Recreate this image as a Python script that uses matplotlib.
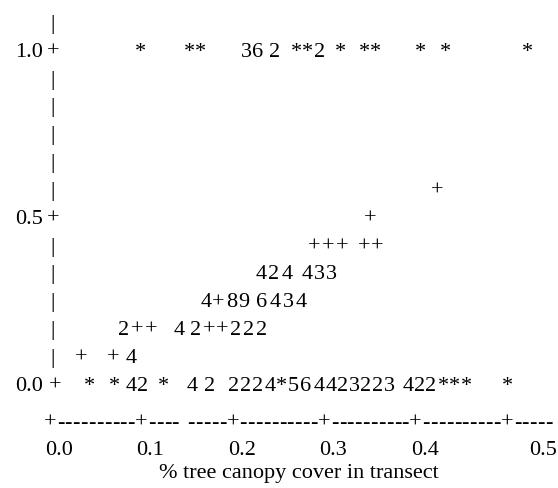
import matplotlib.pyplot as plt

plt.rcParams['font.family'] = ['Liberation Serif', 'DejaVu Serif']

# linhas do grafico de impressora: nivel y, x de cada simbolo, simbolos
linha_y = [1.0, 7/12, 6/12, 5/12, 4/12, 3/12, 2/12, 1/12, 0.0]
linha_x = [
    [0.0985, 0.1525, 0.1648, 0.2150, 0.2276, 0.2462, 0.2695, 0.2818, 0.2954,
     0.3173, 0.3440, 0.3563, 0.4048, 0.4322, 0.5219],
    [0.4240],
    [0.350],
    [0.2888, 0.3042, 0.3195, 0.3435, 0.3578],
    [0.2309, 0.2451, 0.2593, 0.2812, 0.2943, 0.3074],
    [0.1707, 0.1838, 0.1991, 0.2123, 0.2319, 0.2462, 0.2604, 0.2746],
    [0.0810, 0.0952, 0.1105, 0.1411, 0.1597, 0.1740, 0.1882, 0.2035, 0.2177, 0.2319],
    [0.0339, 0.0689, 0.0886],
    [0.0430, 0.0710, 0.0890, 0.1015, 0.1236, 0.1554, 0.1751, 0.2013, 0.2144,
     0.2276, 0.2407, 0.2535, 0.2665, 0.2795, 0.2950, 0.3077, 0.3204, 0.3331,
     0.3458, 0.3585, 0.3712, 0.3917, 0.4040, 0.4163, 0.4300, 0.4430, 0.4562,
     0.5000],
]
linha_s = [
    "***362**2******",
    "+",
    "+",
    "+++++",
    "424433",
    "4+896434",
    "2++42++222",
    "++4",
    "**42*42" "2224*56" "4423223" "422" "****",
]

yticks = [0.0, 0.5, 1.0]
xticks = [0.0, 0.1, 0.2, 0.3, 0.4, 0.5]
xlabel = "% tree canopy cover in transect"

fs = 16
fig = plt.figure(figsize=(5.58, 4.88), dpi=100)
ax = fig.add_axes([0, 0, 1, 1])
ax.set_xlim(-50/914, 508/914)
ax.set_ylim(-105/334, 383/334)
ax.axis('off')

desce = 0.023  # baseline abaixo do centro da linha

# pontos
for y, xs, ss in zip(linha_y, linha_x, linha_s):
    for x, s in zip(xs, ss):
        ax.text(x, y - desce, s, ha='center', va='baseline', fontsize=fs)

# eixo y feito de caracteres
for k in range(1, 14):
    y = k / 12
    marca = '+' if k == 6 or k == 12 else '|'
    ax.text(0.003, y - desce, marca, ha='center', va='baseline', fontsize=fs)
ax.text(0.006, 0 - desce, '+', ha='center', va='baseline', fontsize=fs)
for t in yticks:
    ax.text(-0.008, t - desce, '%.1f' % t, ha='right', va='baseline', fontsize=fs)

# eixo x
yeixo = -0.111
passo = (0.1 - 0.0226) / 9
for i, t in enumerate(xticks):
    ax.text(t, yeixo - desce, '+', ha='center', va='baseline', fontsize=fs)
    ndash = 10 if i < len(xticks) - 1 else 5
    for j in range(ndash):
        if i == 1 and j == 4:
            continue  # falha na impressao
        ax.text(t + 0.0113 + j * passo, yeixo - desce, '-', ha='center',
                va='baseline', fontsize=fs)
    dx = 0.01 if i < len(xticks) - 1 else 0.04
    ax.text(t + dx, -0.192 - desce, '%.1f' % t, ha='center',
            va='baseline', fontsize=fs)

ax.text(0.272, -0.262 - desce, xlabel, ha='center', va='baseline', fontsize=fs)

fig.savefig('out.png', dpi=100)
